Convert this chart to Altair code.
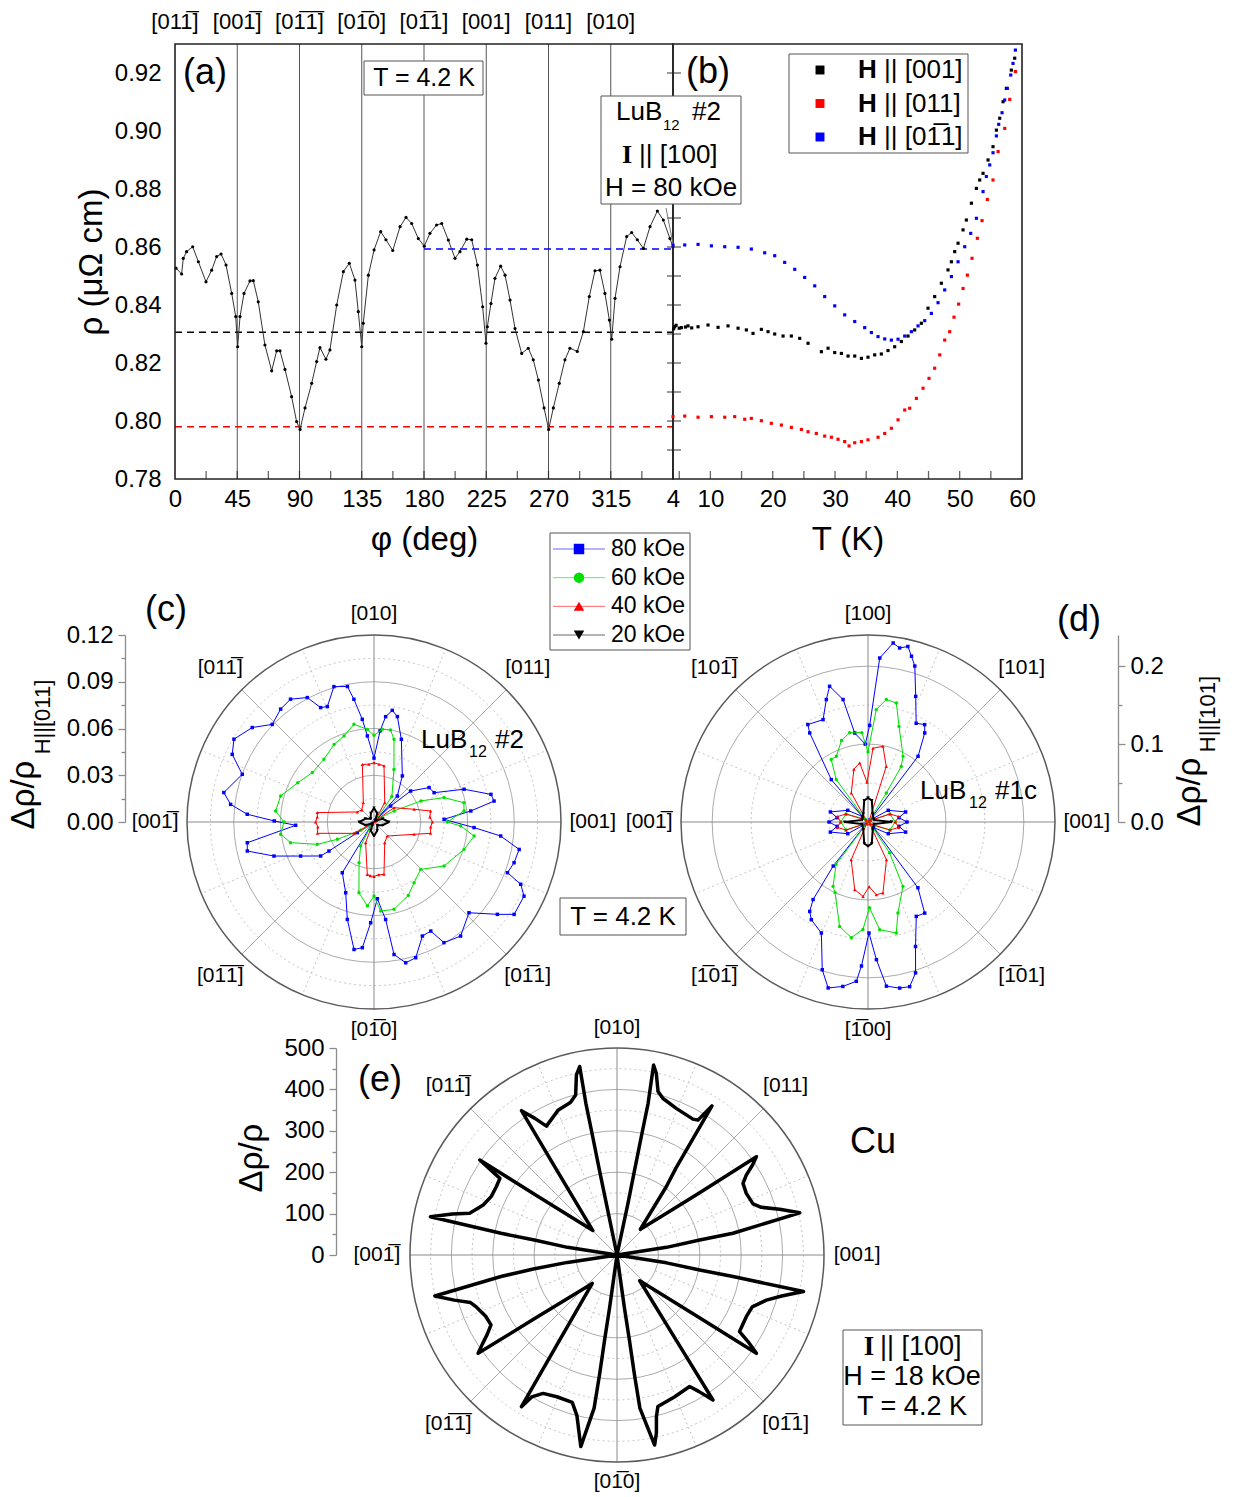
import altair as alt
import pandas as pd

W, H = 1236, 1497
SANS = "Liberation Sans"
SERIF = "Liberation Serif"


def ov(s):
    return s.replace("~1", "1\u0305")


# ======================= DATA =======================
# (a) rho(phi) at T = 4.2 K, H = 80 kOe
phi_a = [0.7, 4.8, 6, 8.4, 12.8, 16.9, 22.4, 26.5, 30.1, 33.3, 36.9, 41, 43.9, 45.3, 47,
         49.9, 54.2, 56.6, 60.2, 65, 69.9, 73.5, 75.9, 79.5, 84.3, 87.9, 90.4, 94, 98.8, 102.4,
         104.8, 109.1, 112, 116.9, 121.7, 126, 130.1, 132.5, 135, 136.1, 139.8, 143.9, 148.7,
         152.5, 157.4, 162.7, 167, 171.1, 175.9, 180.2, 184.3, 189.1, 192.8, 197.6, 202.4, 206,
         210.9, 214.5, 218.6, 222.4, 224.8, 225.8, 228.4, 231.3, 235.4, 238.6, 242.2, 245.8,
         250.6, 255.4, 259, 262.7, 266.8, 270.1, 273.5, 277.8, 281.9, 285.5, 290.8, 295.2, 299.5,
         303.6, 307.2, 310.8, 314, 315.7, 318.1, 321.7, 326.5, 330.1, 334.2, 338.6, 343.4, 348.7,
         353, 357.8, 360]
rho_a = [0.8527, 0.8507, 0.8561, 0.8584, 0.8601, 0.8549, 0.848, 0.852, 0.8567, 0.8576, 0.8538,
         0.844, 0.836, 0.8256, 0.836, 0.844, 0.8483, 0.8484, 0.8411, 0.8262, 0.8173, 0.8242,
         0.8242, 0.8178, 0.8084, 0.7998, 0.7971, 0.8045, 0.813, 0.8205, 0.8253, 0.8213, 0.8245,
         0.84, 0.8515, 0.8544, 0.8486, 0.8377, 0.8256, 0.8337, 0.8503, 0.859, 0.8653, 0.8625,
         0.8588, 0.867, 0.8702, 0.8681, 0.8629, 0.8603, 0.8647, 0.8676, 0.8681, 0.8624, 0.8561,
         0.8584, 0.8627, 0.8625, 0.8538, 0.8394, 0.8268, 0.8325, 0.8405, 0.8492, 0.8534, 0.8503,
         0.8417, 0.8319, 0.8233, 0.8251, 0.8211, 0.8141, 0.8045, 0.7971, 0.8045, 0.813, 0.8211,
         0.8251, 0.824, 0.8308, 0.8429, 0.8518, 0.852, 0.844, 0.8348, 0.8282, 0.8423, 0.8532,
         0.8636, 0.865, 0.8625, 0.8595, 0.867, 0.8724, 0.8693, 0.8629, 0.86]
ref_rho = [0.8306, 0.7980, 0.8593]
ref_phi_start = [0, 0, 180]
ref_color = ["black", "red", "blue"]
dir_phi = [0, 45, 90, 135, 180, 225, 270, 315]
dir_lab_a = ["[01~1]", "[00~1]", "[0~1~1]", "[0~10]", "[0~11]", "[001]", "[011]", "[010]"]

# (b) rho(T)
T_h001 = [4.1, 4.27, 4.5, 5.0, 5.34, 6.0, 6.41, 7.0, 8.02, 9.62, 11.23, 12.83, 14.44, 15.77,
          16.84, 18.18, 19.25, 20.32, 21.66, 22.99, 24.33, 25.67, 27.81, 28.88, 29.95, 31.02,
          32.09, 33.16, 34.23, 35.29, 36.36, 37.43, 38.5, 39.57, 40.64, 41.71, 42.78, 43.85,
          44.92, 45.99, 47.06, 48.13, 48.67, 49.2, 49.74, 50.54, 51.07, 51.88, 52.68, 53.21,
          53.75, 54.55, 55.35, 55.89, 56.42, 56.96, 57.49, 58.29, 58.83]
rho_h001 = [0.8318, 0.8325, 0.8330, 0.8320, 0.8322, 0.8324, 0.8328, 0.8321, 0.8325, 0.8331,
            0.8323, 0.8328, 0.8320, 0.8314, 0.8302, 0.8316, 0.8308, 0.8300, 0.8293, 0.8293,
            0.8285, 0.8268, 0.8239, 0.8251, 0.8236, 0.8233, 0.8224, 0.8224, 0.8216, 0.8220,
            0.8228, 0.8231, 0.8243, 0.8256, 0.8274, 0.8293, 0.8314, 0.8337, 0.8389, 0.8429,
            0.8475, 0.8521, 0.8549, 0.8584, 0.8613, 0.8659, 0.8693, 0.8751, 0.8802, 0.8831,
            0.8854, 0.8900, 0.8946, 0.9003, 0.9044, 0.9101, 0.9147, 0.9210, 0.9251]
T_h011 = [4.0, 5.88, 8.02, 10.16, 12.3, 13.9, 15.51, 16.57, 18.18, 19.78, 21.39, 22.99, 24.6,
          25.67, 27.0, 28.34, 29.41, 30.48, 31.55, 32.25, 33.16, 34.23, 35.29, 36.9, 37.97,
          39.04, 40.11, 41.18, 41.98, 43.05, 44.12, 45.08, 45.99, 46.8, 47.6, 48.4, 49.09,
          49.84, 50.54, 51.23, 51.98, 52.84, 53.59, 54.44, 55.35, 56.16, 57.23, 58.03, 58.94]
rho_h011 = [0.8015, 0.8017, 0.8013, 0.8015, 0.8013, 0.8015, 0.8006, 0.8009, 0.8001, 0.7992,
            0.7986, 0.7978, 0.7971, 0.7963, 0.7957, 0.7948, 0.7944, 0.7937, 0.7929, 0.7914,
            0.7925, 0.7929, 0.7935, 0.7944, 0.7957, 0.7975, 0.8004, 0.8038, 0.8044, 0.8078,
            0.8113, 0.8147, 0.8182, 0.8228, 0.8279, 0.8308, 0.8358, 0.8403, 0.8457, 0.8503,
            0.8561, 0.8630, 0.8691, 0.8764, 0.8831, 0.8929, 0.9009, 0.9109, 0.9205]
T_h0b11 = [4.0, 5.88, 8.02, 10.16, 12.3, 14.44, 16.57, 18.71, 20.32, 21.92, 23.53, 25.13,
           26.74, 28.34, 29.95, 31.55, 33.16, 34.76, 35.83, 36.9, 37.97, 39.04, 40.11, 41.18,
           42.25, 43.32, 44.39, 45.46, 46.53, 47.6, 48.67, 49.74, 50.81, 51.77, 52.68, 53.75,
           54.28, 54.82, 55.35, 55.89, 56.26, 56.8, 57.23, 57.65, 58.19, 58.56, 58.94]
rho_h0b11 = [0.8607, 0.8607, 0.8609, 0.8604, 0.8601, 0.8599, 0.8593, 0.8580, 0.8570, 0.8547,
             0.8523, 0.8495, 0.8466, 0.8429, 0.8397, 0.8366, 0.8343, 0.8322, 0.8305, 0.8291,
             0.8283, 0.8279, 0.8282, 0.8293, 0.8308, 0.8328, 0.8346, 0.8371, 0.8408, 0.8452,
             0.8498, 0.8549, 0.8601, 0.8647, 0.8699, 0.8791, 0.8843, 0.8883, 0.8925, 0.8983,
             0.9023, 0.9063, 0.9107, 0.9147, 0.9193, 0.9233, 0.9279]
b_labels = ["|| [001]", "|| [011]", "|| [0~11]"]
b_colors = ["black", "red", "blue"]

# polar direction labels
polar_dirs = [0, 45, 90, 135, 180, 225, 270, 315]
lab_c = ["[001]", "[011]", "[010]", "[01~1]", "[00~1]", "[0~1~1]", "[0~10]", "[0~11]"]
lab_d = ["[001]", "[101]", "[100]", "[10~1]", "[00~1]", "[~10~1]", "[~100]", "[~101]"]

# (c) LuB12 #2, d rho / rho(H||[011]) vs field angle
c80_ang = [45, 48.1, 58.4, 71.7, 77.5, 80.7, 83.7, 86.2, 90, 94.4, 96.5, 99.3, 101.1, 106.5, 112,
           115, 118.2, 124.2, 129.6, 136.2, 142.2, 149.4, 154.5, 160.1, 168.9, 173, 176.5, 179.4,
           182.4, 189.3, 192.9, 198.8, 204.9, 212.5, 212.8, 212.6, 225, 238, 248.2, 254.7, 261.1,
           264.7, 268.1, 272.5, 276.8, 278.6, 282.7, 287.1, 293, 297.5, 300.1, 307.2, 316.3,
           323.2, 326.6, 333.7, 337, 339.2, 343.8, 349.3, 353.7, 356.8, 2.2, 6.5, 9.9, 13.3, 20,
           26, 32, 40.2, 43.8, 45]
c80_val = [0.002, 0.0224, 0.0347, 0.0559, 0.0693, 0.0726, 0.068, 0.0586, 0.041, 0.0554, 0.0663,
           0.0798, 0.0886, 0.0906, 0.0799, 0.081, 0.0906, 0.0953, 0.094, 0.0905, 0.0989, 0.1044,
           0.1008, 0.0899, 0.0982, 0.0927, 0.0815, 0.064, 0.0503, 0.0824, 0.0834, 0.0678, 0.0519,
           0.0406, 0.0344, 0.0127, 0.002, 0.0384, 0.0489, 0.0648, 0.0828, 0.081, 0.0647, 0.0493,
           0.063, 0.086, 0.0926, 0.0911, 0.0795, 0.0789, 0.0895, 0.0919, 0.0843, 0.0989, 0.1077,
           0.1074, 0.1023, 0.0916, 0.0936, 0.0948, 0.0818, 0.0643, 0.045, 0.0625, 0.0782, 0.0771,
           0.0615, 0.0429, 0.0417, 0.0308, 0.0148, 0.002]
c60_ang = [45, 55, 69.2, 76.4, 79.8, 84.9, 90, 94.1, 101.6, 109.2, 117.2, 128.6, 141.3, 152.8,
           164.4, 173.6, 180, 187.5, 193.9, 201.5, 205.3, 212, 225, 240.9, 249.8, 258, 265.5, 270,
           274.3, 282.9, 295, 303.4, 314.6, 327.9, 343.1, 352, 357.4, 0, 7, 12.1, 19.2, 24.2,
           28.8, 45]
c60_val = [0.002, 0.02, 0.036, 0.0546, 0.06, 0.0597, 0.0556, 0.0596, 0.064, 0.0585, 0.056,
           0.0515, 0.0507, 0.055, 0.0622, 0.0635, 0.0578, 0.0604, 0.0552, 0.0391, 0.026, 0.01,
           0.002, 0.0176, 0.0278, 0.0464, 0.054, 0.0475, 0.0573, 0.0575, 0.052, 0.0467, 0.0427,
           0.0531, 0.0604, 0.0649, 0.0557, 0.047, 0.0582, 0.059, 0.0476, 0.033, 0.0147, 0.002]
c40_ang = [45, 61, 79.9, 85, 90, 95, 101.4, 118.9, 135, 149, 170.6, 175, 180, 185, 191.3, 209.5,
           225, 248, 262.7, 266, 270, 275, 280.8, 297.3, 313.6, 342.9, 348.7, 355, 0, 5, 11, 17.6,
           35.6, 45]
c40_val = [0.001, 0.0142, 0.0366, 0.0372, 0.038, 0.0372, 0.0377, 0.0142, 0.011, 0.0125, 0.0369,
           0.0365, 0.0375, 0.0362, 0.037, 0.0148, 0.001, 0.0143, 0.0339, 0.0345, 0.035, 0.034,
           0.0342, 0.015, 0.0124, 0.0269, 0.037, 0.0365, 0.0375, 0.036, 0.037, 0.027, 0.0158,
           0.001]
c20_ang = [45, 70, 90, 110, 135, 160, 180, 200, 225, 250, 270, 290, 315, 340, 0, 20, 45]
c20_val = [0.001, 0.006, 0.009, 0.006, 0.003, 0.006, 0.0095, 0.006, 0.001, 0.006, 0.009, 0.006,
           0.003, 0.006, 0.0095, 0.006, 0.001]

# (d) LuB12 #1c, d rho / rho(H||[101])
d80_ang = [45, 52.7, 57.5, 59.8, 64, 69.2, 73.3, 75.3, 77.2, 79.7, 82, 85.9, 89, 92, 98.5, 101.5,
           105.8, 108.8, 113.7, 121.7, 123.2, 130.9, 135, 150, 165, 172, 180, 188, 195, 210, 225,
           231.7, 234.7, 236.9, 239.9, 247.2, 252.8, 256.5, 261.3, 265.8, 267.4, 270.5, 273.5,
           276.4, 280.8, 284.2, 287.5, 290.9, 297.1, 301.9, 307.2, 315, 330, 345, 352, 0, 8, 15,
           30, 45]
d80_val = [0.003, 0.106, 0.1355, 0.1446, 0.141, 0.1725, 0.209, 0.22, 0.231, 0.227, 0.232, 0.211,
           0.124, 0.10, 0.1155, 0.1604, 0.181, 0.166, 0.1435, 0.147, 0.1366, 0.072, 0.01, 0.03,
           0.05, 0.04, 0.05, 0.04, 0.05, 0.03, 0.003, 0.072, 0.122, 0.137, 0.145, 0.1545, 0.1985,
           0.219, 0.2135, 0.205, 0.185, 0.1425, 0.177, 0.212, 0.217, 0.218, 0.203, 0.171, 0.136,
           0.1377, 0.106, 0.01, 0.03, 0.05, 0.04, 0.05, 0.04, 0.05, 0.03, 0.003]
d60_ang = [45, 57.7, 59.1, 61.9, 72, 76.6, 81.5, 85.8, 90, 94, 101.6, 108, 115.7, 120.5, 126.8,
           135, 160, 180, 200, 225, 233, 241.5, 245, 254.8, 261.8, 267.3, 271, 276.2, 284.3,
           288.2, 298.5, 305, 315, 340, 0, 20, 45]
d60_val = [0.002, 0.044, 0.083, 0.0955, 0.129, 0.157, 0.159, 0.1446, 0.09, 0.115, 0.117, 0.11,
           0.0936, 0.093, 0.068, 0.005, 0.03, 0.035, 0.03, 0.002, 0.068, 0.094, 0.1, 0.139, 0.15,
           0.138, 0.11, 0.139, 0.147, 0.123, 0.094, 0.048, 0.005, 0.03, 0.035, 0.03, 0.002]
d40_ang = [45, 71.8, 78.8, 86.1, 91.4, 98, 105, 119.9, 135, 160, 170, 180, 190, 200, 225, 246,
           258.9, 266.2, 271, 276.5, 281.9, 296, 315, 340, 350, 0, 10, 20, 45]
d40_val = [0.002, 0.075, 0.099, 0.095, 0.051, 0.0766, 0.07, 0.043, 0.003, 0.03, 0.04, 0.035,
           0.04, 0.03, 0.002, 0.053, 0.0885, 0.0957, 0.083, 0.094, 0.093, 0.054, 0.003, 0.03,
           0.04, 0.035, 0.04, 0.03, 0.002]
d20_ang = [0, 20, 60, 80, 90, 100, 120, 160, 180, 200, 240, 260, 270, 280, 300, 340, 360]
d20_val = [0.03, 0.008, 0.012, 0.028, 0.031, 0.028, 0.012, 0.008, 0.03, 0.008, 0.012, 0.028,
           0.031, 0.028, 0.012, 0.008, 0.03]

# (e) Cu, d rho / rho
e_ang = [0, 8.8, 10.3, 10.6, 13.0, 15.7, 18.3, 20.6, 25.5, 29.6, 31.7, 33.6, 35.2, 37, 40, 47.7,
         54.2, 55.9, 57.5, 58.3, 59.0, 60.8, 68.0, 73.6, 75.9, 77.8, 79.1, 78.4, 78.4, 78.3, 78,
         90,
         101.7, 101.7, 101.6, 101.6, 101.2, 102.7, 104.5, 107, 112, 118.7, 121, 123.5, 125.4,
         134.6, 143.5, 145.3, 146.8, 150.5, 155, 159.5, 164.2, 166, 168.4, 169.4, 169.7, 171.2,
         180,
         188.5, 189.5, 190.5, 192.7, 195.5, 198, 200.4, 205, 209, 211.5, 213.5, 215.3, 217.7, 229,
         236.2, 237.8, 239, 241.9, 247, 253.1, 256, 258, 259.3, 261.5, 261.7, 261.7, 262,
         270,
         278, 278.3, 278.3, 278.5, 281.2, 282.5, 283.7, 285.1, 292, 298.9, 301, 303.5, 304.8,
         311.4, 322.6, 324.8, 326.5, 328, 334.5, 339, 343.2, 346, 348.9, 349.5, 349.7, 351, 360]
e_val = [0, 121, 203, 285, 453, 408, 367, 351, 346, 350, 367, 393, 412, 250, 160, 84,
         204, 255, 427, 402, 380, 376, 382, 394, 407, 449, 467, 374, 291, 210, 128,
         0,
         128, 210, 291, 374, 464, 446, 399, 385, 378, 355, 385, 418, 250,
         83, 242, 403, 338, 335, 335, 345, 370, 410, 460, 285, 203, 121,
         0,
         121, 205, 285, 451, 408, 372, 362, 350, 348, 368, 390, 411, 250, 91,
         261, 433, 400, 379, 372, 372, 400, 440, 471, 374, 291, 210, 128,
         0,
         128, 210, 291, 374, 468, 440, 402, 379, 370, 363, 385, 420, 251,
         83, 246, 412, 380, 349, 346, 350, 377, 410, 459, 285, 203, 121, 0]

field_names = ["80 kOe", "60 kOe", "40 kOe", "20 kOe"]
field_colors = ["#0000ff", "#00e000", "#ff0000", "#000000"]
field_shapes = ["square", "circle", "triangle-up", "triangle-down"]

# ======================= HELPERS =======================
ONE = pd.DataFrame({"k": [0]})


def lin(dom, rng):
    return alt.Scale(domain=dom, range=rng, nice=False, zero=False)


def PX(f, s, axis=None):
    return alt.X(f, type="quantitative", scale=s, axis=axis)


def PY(f, s, axis=None):
    return alt.Y(f, type="quantitative", scale=s, axis=axis)


def txt(x, y, s, size, font=SANS, weight="normal", align="center", angle=None):
    kw = dict(text=s, fontSize=size, font=font, fontWeight=weight, align=align,
              baseline="middle", color="black")
    if angle is not None:
        kw["angle"] = angle
    return alt.Chart(ONE).mark_text(**kw).encode(x=alt.value(x), y=alt.value(y))


def box(x0, y0, x1, y1):
    return alt.Chart(ONE).mark_rect(fill="white", stroke="#555555", strokeWidth=1).encode(
        x=alt.value(x0), x2=alt.value(x1), y=alt.value(y0), y2=alt.value(y1))


layers = []

# ======================= POLAR PANELS =======================
def polar_grid(cx, cy, R, V, major, minor, dot_start, labels, k0, dk):
    xs = lin([-V, V], [cx - R, cx + R])
    ys = lin([-V, V], [cy + R, cy - R])
    out = []
    sz = alt.Scale(type="pow", exponent=2, domain=[0, V], range=[0, (2 * R) ** 2])

    def rings(vals, color, dash, width):
        df = pd.DataFrame({"v": vals, "z": 0.0})
        mk = dict(shape="circle", filled=False, color=color, strokeWidth=width, opacity=1)
        if dash:
            mk["strokeDash"] = dash
        return alt.Chart(df).mark_point(**mk).encode(
            x=PX("z", xs), y=PY("z", ys), size=alt.Size("v:Q", scale=sz, legend=None))

    def spokes(angles, r0, color, dash, width):
        df = pd.DataFrame({"a": angles})
        mk = dict(color=color, strokeWidth=width)
        if dash:
            mk["strokeDash"] = dash
        return alt.Chart(df).transform_calculate(
            x0=f"{r0}*cos(datum.a*PI/180)", y0=f"{r0}*sin(datum.a*PI/180)",
            x1=f"{V}*cos(datum.a*PI/180)", y1=f"{V}*sin(datum.a*PI/180)",
        ).mark_rule(**mk).encode(x=PX("x0", xs), y=PY("y0", ys),
                                 x2=alt.X2("x1"), y2=alt.Y2("y1"))

    out.append(rings(minor, "#c4c4c4", [2, 3], 1))
    out.append(spokes([22.5 + 45 * k for k in range(8)], V * dot_start, "#c4c4c4", [2, 3], 1))
    out.append(rings(major, "#ababab", None, 1))
    out.append(spokes([45, 135, 225, 315], 0, "#ababab", None, 1))
    out.append(spokes([0, 90, 180, 270], 0, "#8a8a8a", None, 1))
    out.append(rings([V], "#5a5a5a", None, 1.5))
    ldf = pd.DataFrame({"a": polar_dirs, "t": [ov(s) for s in labels]})
    out.append(alt.Chart(ldf).transform_calculate(
        rf=f"{V}*({k0} - {dk}*pow(abs(sin(datum.a*PI/180)), 6))",
        px="datum.rf*cos(datum.a*PI/180)", py="datum.rf*sin(datum.a*PI/180)",
    ).mark_text(fontSize=21, font=SANS, color="black").encode(
        x=PX("px", xs), y=PY("py", ys), text="t:N"))
    return out, xs, ys


def polar_curve(ang, val, xs, ys, color, shape=None, lw=1.0, msize=12):
    df = pd.DataFrame({"a": ang, "r": val, "i": list(range(len(ang)))})
    base = alt.Chart(df).transform_calculate(
        px="datum.r*cos(datum.a*PI/180)", py="datum.r*sin(datum.a*PI/180)")
    res = [base.mark_line(color=color, strokeWidth=lw, strokeJoin="round").encode(
        x=PX("px", xs), y=PY("py", ys), order=alt.Order("i:Q"))]
    if shape:
        res.append(base.mark_point(shape=shape, filled=True, color=color, size=msize,
                                   opacity=1).encode(x=PX("px", xs), y=PY("py", ys)))
    return res


def radial_axis(cy, R, V, orient, offset, major, minor, fmt):
    ys = lin([0, V], [cy, cy - R])
    df = pd.DataFrame({"v": [0.0, V]})
    ax1 = alt.Axis(orient=orient, offset=offset, values=major, format=fmt, grid=False,
                   domain=True, domainColor="#8c8c8c", domainWidth=1.3, ticks=True,
                   tickColor="#8c8c8c", tickWidth=1.3, tickSize=7, labelFontSize=24,
                   labelPadding=5, labelColor="black", labelFont=SANS, title=None,
                   labelOverlap=False, labelFlush=False)
    ax2 = alt.Axis(orient=orient, offset=offset, values=minor, grid=False, domain=False,
                   ticks=True, tickColor="#8c8c8c", tickWidth=1.3, tickSize=4, labels=False,
                   title=None)
    return [alt.Chart(df).mark_point(opacity=0).encode(x=alt.value(10), y=PY("v", ys, ax1)),
            alt.Chart(df).mark_point(opacity=0).encode(x=alt.value(10), y=PY("v", ys, ax2))]


# (c)
g, xc, yc = polar_grid(374, 822, 187, 0.12, [0.03, 0.06, 0.09], [0.015, 0.045, 0.075, 0.105],
                       0.25, lab_c, 1.17, 0.06)
layers += g
# (d)
g, xd, yd = polar_grid(868, 822, 187, 0.24, [0.1, 0.2], [0.05, 0.15], 0.25, lab_d, 1.17, 0.06)
layers += g
# (e)
g, xe, ye = polar_grid(617, 1255, 207, 500, [100, 200, 300, 400], [50, 150, 250, 350, 450],
                       0.2, lab_c, 1.16, 0.063)
layers += g

for (a_, v_), col, shp in zip([(c80_ang, c80_val), (c60_ang, c60_val), (c40_ang, c40_val),
                               (c20_ang, c20_val)], field_colors, field_shapes):
    layers += polar_curve(a_, v_, xc, yc, col, shp, lw=1.0 if col != "#000000" else 2.0)
for (a_, v_), col, shp in zip([(d80_ang, d80_val), (d60_ang, d60_val), (d40_ang, d40_val),
                               (d20_ang, d20_val)], field_colors, field_shapes):
    layers += polar_curve(a_, v_, xd, yd, col, shp, lw=1.0 if col != "#000000" else 2.0)
layers += polar_curve(e_ang, e_val, xe, ye, "black", None, lw=3.5)

layers += radial_axis(822, 187, 0.12, "left", -125,
                      [0, 0.03, 0.06, 0.09, 0.12], [0.015, 0.045, 0.075, 0.105], ".2f")
layers += radial_axis(822, 187, 0.24, "right", 1118 - W, [0, 0.1, 0.2], [0.05, 0.15], ".1f")
layers += radial_axis(1255, 207, 500, "left", -336, [0, 100, 200, 300, 400, 500],
                      [50, 150, 250, 350, 450], "d")

# ======================= PANEL (a) =======================
XA = lin([0, 360], [175, 673])
YA = lin([0.78, 0.93], [479, 44])
XB = lin([4, 60], [673, 1022])

ax_phi = alt.Axis(orient="bottom", offset=479 - H, values=dir_phi, grid=False, domain=False,
                  ticks=False, tickSize=0, labelFontSize=24, labelPadding=8, labelFlush=False,
                  labelOverlap=False, title="φ (deg)", titleFontSize=33, titlePadding=12,
                  titleFontWeight="normal")
ax_rho = alt.Axis(orient="left", offset=-175,
                  values=[round(0.78 + 0.02 * i, 2) for i in range(8)], format=".2f",
                  grid=False, domain=False, ticks=False, tickSize=0, labelFontSize=24,
                  labelPadding=14, labelOverlap=False, title="ρ (μΩ cm)", titleFontSize=33,
                  titlePadding=6, titleFontWeight="normal")
ax_T = alt.Axis(orient="bottom", offset=479 - H, values=[4, 10, 20, 30, 40, 50, 60], grid=False,
                domain=False, ticks=False, tickSize=0, labelFontSize=24, labelPadding=8,
                labelFlush=False, labelOverlap=False, title="T (K)", titleFontSize=33,
                titlePadding=12, titleFontWeight="normal")

vl = pd.DataFrame({"phi": dir_phi[1:], "y0": 0.78, "y1": 0.93})
layers.append(alt.Chart(vl).mark_rule(color="#555555", strokeWidth=1).encode(
    x=PX("phi", XA), y=PY("y0", YA), y2=alt.Y2("y1")))
dd = pd.DataFrame({"x0": ref_phi_start, "x1": 360.0, "y": ref_rho, "c": ref_color})
layers.append(alt.Chart(dd).mark_rule(strokeDash=[7, 5], strokeWidth=1.4).encode(
    x=PX("x0", XA), x2=alt.X2("x1"), y=PY("y", YA), color=alt.Color("c:N", scale=None)))
da = pd.DataFrame({"phi": phi_a, "rho": rho_a})
layers.append(alt.Chart(da).mark_line(color="#333333", strokeWidth=1).encode(
    x=PX("phi", XA, ax_phi), y=PY("rho", YA, ax_rho)))
layers.append(alt.Chart(da).mark_point(filled=True, size=10, color="black", opacity=1).encode(
    x=PX("phi", XA), y=PY("rho", YA)))
tb = pd.DataFrame({"phi": [22.5 * k for k in range(1, 16)], "y": 0.78})
layers.append(alt.Chart(tb).mark_tick(orient="vertical", size=8, thickness=1.3, color="#222222",
                                      yOffset=-4).encode(x=PX("phi", XA), y=PY("y", YA)))
tl = pd.DataFrame({"phi": dir_phi, "t": [ov(s) for s in dir_lab_a]})
layers.append(alt.Chart(tl).mark_text(fontSize=22, font=SANS, color="black").encode(
    x=PX("phi", XA), y=alt.value(22), text="t:N"))

# frames
fa = pd.DataFrame({"x0": [0.0], "x1": [360.0], "y0": [0.78], "y1": [0.93]})
layers.append(alt.Chart(fa).mark_rect(fill="white", fillOpacity=0, stroke="#222222",
                                      strokeWidth=1.6).encode(
    x=PX("x0", XA), x2=alt.X2("x1"), y=PY("y0", YA), y2=alt.Y2("y1")))
fb = pd.DataFrame({"x0": [4.0], "x1": [60.0], "y0": [0.78], "y1": [0.93]})
layers.append(alt.Chart(fb).mark_rect(fill="white", fillOpacity=0, stroke="#222222",
                                      strokeWidth=1.6).encode(
    x=PX("x0", XB), x2=alt.X2("x1"), y=PY("y0", YA), y2=alt.Y2("y1")))

# ======================= PANEL (b) =======================
tlb = pd.DataFrame({"T": 4.0, "rho": [round(0.79 + 0.01 * i, 2) for i in range(14)]})
layers.append(alt.Chart(tlb).mark_tick(orient="horizontal", size=14, thickness=1.3,
                                       color="#222222", xOffset=1).encode(
    x=PX("T", XB), y=PY("rho", YA)))
tbb = pd.DataFrame({"T": [5 * k for k in range(1, 12)], "y": 0.78})
layers.append(alt.Chart(tbb).mark_tick(orient="vertical", size=8, thickness=1.3, color="#222222",
                                       yOffset=-4).encode(x=PX("T", XB), y=PY("y", YA)))
first = True
for T_, R_, col in [(T_h001, rho_h001, "black"), (T_h0b11, rho_h0b11, "blue"),
                    (T_h011, rho_h011, "red")]:
    df = pd.DataFrame({"T": T_, "rho": R_})
    layers.append(alt.Chart(df).mark_square(size=10, color=col, opacity=1).encode(
        x=PX("T", XB, ax_T if first else None), y=PY("rho", YA)))
    first = False

# ======================= ANNOTATIONS =======================
layers.append(alt.Chart(ONE).mark_rule(color="#777777", strokeWidth=1).encode(
    x=alt.value(666), x2=alt.value(673), y=alt.value(208), y2=alt.value(244)))

layers.append(box(364, 61, 483, 95))
layers.append(txt(424, 78, "T = 4.2 K", 25))
layers.append(box(601, 96, 741, 204))
layers.append(txt(616, 112, "LuB", 26, align="left"))
layers.append(txt(663, 125, "12", 15, align="left"))
layers.append(txt(692, 112, "#2", 26, align="left"))
layers.append(txt(627, 155, "I", 26, font=SERIF, weight="bold"))
layers.append(txt(639, 155, "|| [100]", 26, align="left"))
layers.append(txt(671, 188, "H = 80 kOe", 26))

# (b) legend
layers.append(box(789, 54, 968, 153))
bl = pd.DataFrame({"row": [0, 1, 2], "lab": [ov(s) for s in b_labels], "c": b_colors})
YL = lin([0, 2], [70, 137])
layers.append(alt.Chart(bl).mark_square(size=80, opacity=1).encode(
    x=alt.value(820), y=PY("row", YL), color=alt.Color("c:N", scale=None)))
layers.append(alt.Chart(bl).mark_text(text="H", fontSize=26, font=SANS, fontWeight="bold",
                                      align="left", color="black").encode(
    x=alt.value(858), y=PY("row", YL)))
layers.append(alt.Chart(bl).mark_text(fontSize=26, font=SANS, align="left", color="black").encode(
    x=alt.value(884), y=PY("row", YL), text="lab:N"))

# (c)/(d) legend
layers.append(box(550, 533, 690, 650))
lg = pd.DataFrame({"row": [0, 1, 2, 3], "lab": field_names, "c": field_colors,
                   "s": field_shapes})
YG = lin([0, 3], [549, 635])
layers.append(alt.Chart(lg).mark_rule(strokeWidth=1, opacity=0.6).encode(
    x=alt.value(553), x2=alt.value(605), y=PY("row", YG), color=alt.Color("c:N", scale=None)))
layers.append(alt.Chart(lg).mark_point(filled=True, size=110, opacity=1).encode(
    x=alt.value(579), y=PY("row", YG), color=alt.Color("c:N", scale=None),
    shape=alt.Shape("s:N", scale=None)))
layers.append(alt.Chart(lg).mark_text(fontSize=23, font=SANS, align="left", color="black").encode(
    x=alt.value(611), y=PY("row", YG), text="lab:N"))

# panel letters
layers.append(txt(205, 73, "(a)", 36))
layers.append(txt(708, 72, "(b)", 36))
layers.append(txt(166, 610, "(c)", 36))
layers.append(txt(1079, 620, "(d)", 36))
layers.append(txt(380, 1080, "(e)", 36))

# (c) texts
layers.append(txt(421, 740, "LuB", 26, align="left"))
layers.append(txt(469, 752, "12", 16, align="left"))
layers.append(txt(495, 740, "#2", 26, align="left"))
layers.append(box(560, 898, 686, 935))
layers.append(txt(623, 917, "T = 4.2 K", 26))
layers.append(txt(24, 795, "Δρ/ρ", 33, angle=270))
layers.append(txt(43, 717, "H||[011]", 22, angle=270))

# (d) texts
layers.append(txt(920, 791, "LuB", 26, align="left"))
layers.append(txt(969, 803, "12", 16, align="left"))
layers.append(txt(995, 791, "#1c", 26, align="left"))
layers.append(txt(1190, 792, "Δρ/ρ", 33, angle=270))
layers.append(txt(1208, 714, "H||[101]", 22, angle=270))

# (e) texts
layers.append(txt(252, 1158, "Δρ/ρ", 33, angle=270))
layers.append(txt(873, 1142, "Cu", 36))
layers.append(box(843, 1330, 982, 1425))
layers.append(txt(869, 1347, "I", 27, font=SERIF, weight="bold"))
layers.append(txt(880, 1347, "|| [100]", 27, align="left"))
layers.append(txt(912, 1377, "H = 18 kOe", 27))
layers.append(txt(912, 1407, "T = 4.2 K", 27))

chart = alt.layer(*layers).resolve_scale(
    x="independent", y="independent", color="independent", size="independent",
    shape="independent",
).properties(
    width=W, height=H, autosize=alt.AutoSizeParams(type="none"), padding=0,
).configure_view(stroke=None).configure_axis(
    labelFont=SANS, titleFont=SANS, labelColor="black", titleColor="black",
)

chart.save("out.html", embed_options={"renderer": "svg", "actions": False})
